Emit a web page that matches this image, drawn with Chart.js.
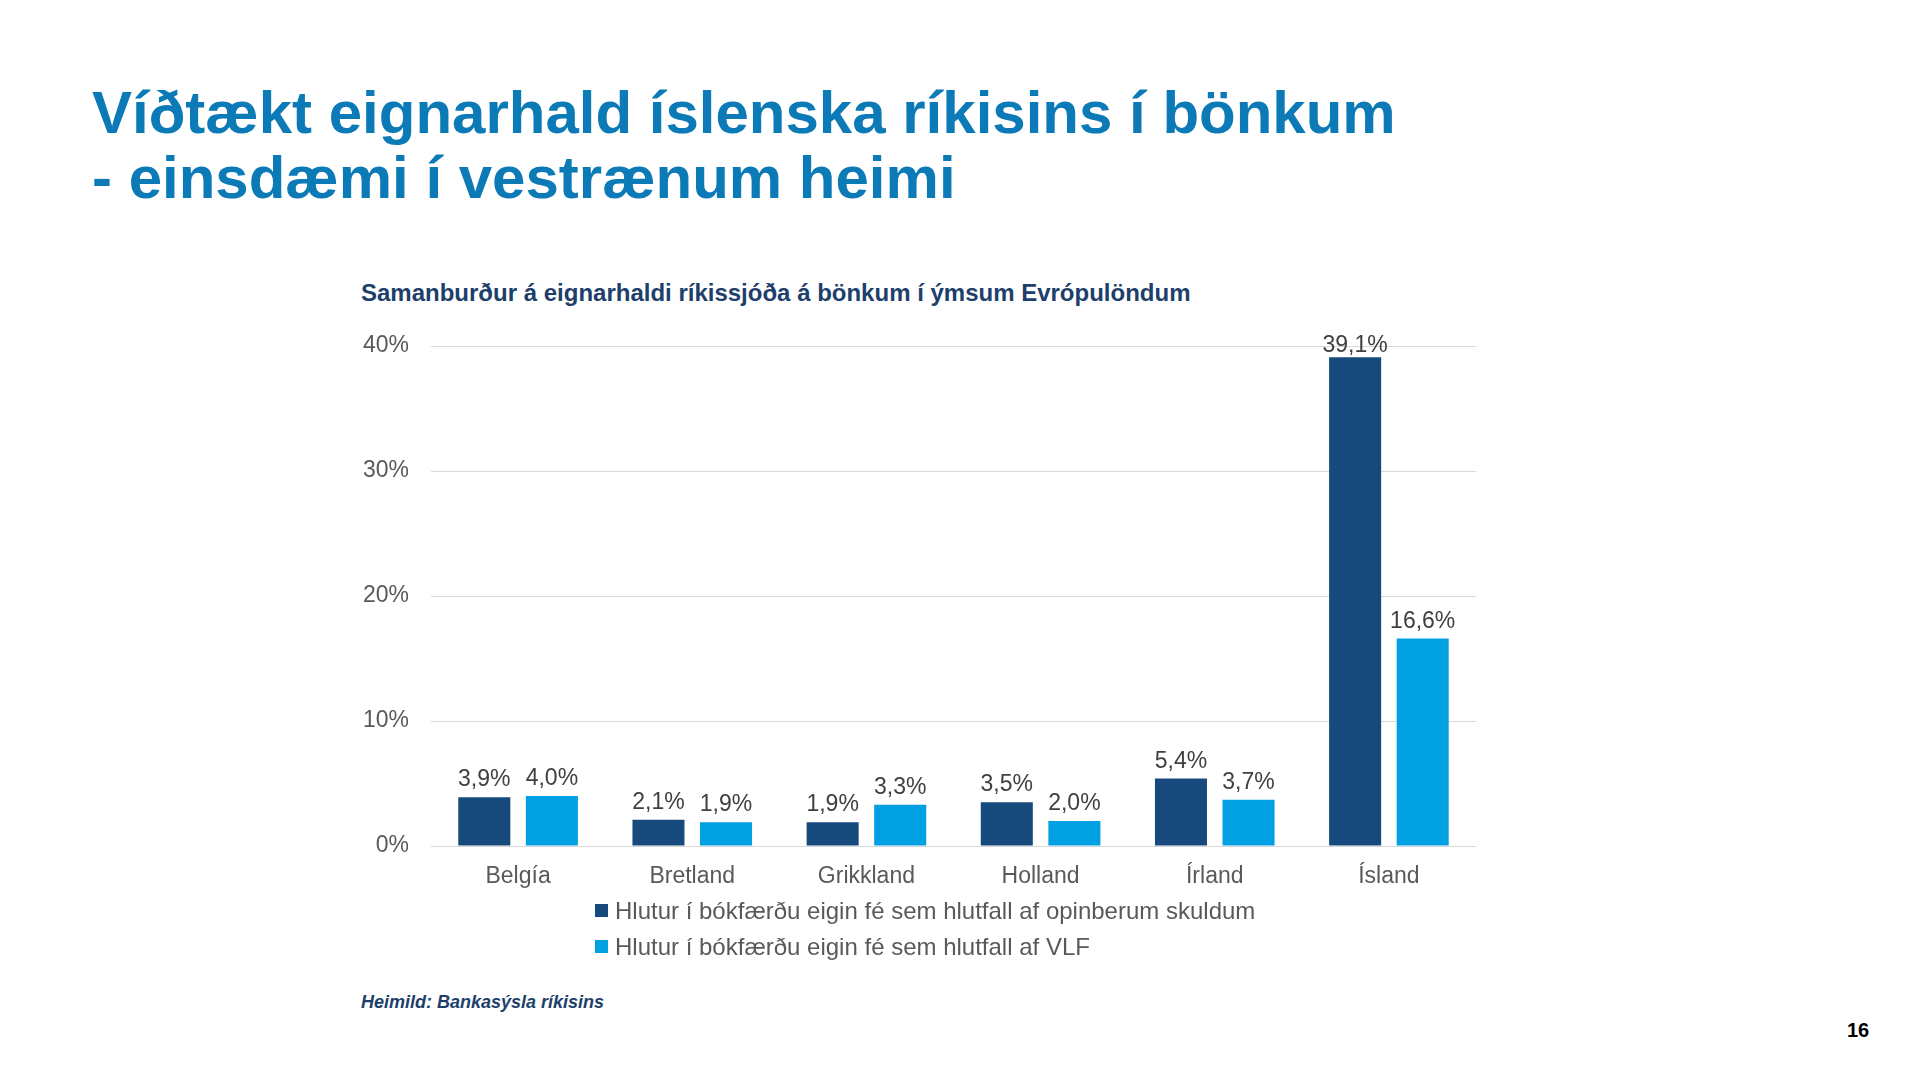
<!DOCTYPE html>
<html>
<head>
<meta charset="utf-8">
<script src="https://cdn.jsdelivr.net/npm/chart.js@4.4.0/dist/chart.umd.min.js"></script>
<style>
body { margin:0; width:1920px; height:1080px; background:#fff; position:relative; overflow:hidden; font-family:"Liberation Sans", Arial, sans-serif; }
#title { position:absolute; left:92px; top:80px; font-size:60px; line-height:65px; font-weight:bold; color:#0b7ab6; white-space:nowrap; }
#subtitle { position:absolute; left:361px; top:281px; font-size:24px; line-height:24px; font-weight:bold; color:#1e3f6b; white-space:nowrap; }
#chartBox { position:absolute; left:300px; top:300px; width:1250px; height:680px; }
#source { position:absolute; left:361px; top:993px; font-size:18px; line-height:18px; font-weight:bold; font-style:italic; color:#1e3f6b; }
#page { position:absolute; left:1847px; top:1020px; font-size:20px; line-height:20px; font-weight:bold; color:#000; }
</style>
</head>
<body>
<div id="title">Víðtækt eignarhald íslenska ríkisins í bönkum<br>- einsdæmi í vestrænum heimi</div>
<div id="subtitle">Samanburður á eignarhaldi ríkissjóða á bönkum í ýmsum Evrópulöndum</div>
<div id="chartBox"><canvas id="chart"></canvas></div>
<div id="source">Heimild: Bankasýsla ríkisins</div>
<div id="page">16</div>
<script>
const categories = ['Belgía', 'Bretland', 'Grikkland', 'Holland', 'Írland', 'Ísland'];
const debtShare = [3.9, 2.1, 1.9, 3.5, 5.4, 39.1];
const gdpShare = [4.0, 1.9, 3.3, 2.0, 3.7, 16.6];
const seriesNames = [
    'Hlutur í bókfærðu eigin fé sem hlutfall af opinberum skuldum',
    'Hlutur í bókfærðu eigin fé sem hlutfall af VLF'
];
const yTicks = [0, 10, 20, 30, 40];
const colors = ['#164a7c', '#00a0e3'];

const FONT = '"Liberation Sans", Arial, sans-serif';

function pct(v) {
    return v.toFixed(1).replace('.', ',') + '%';
}

// value labels above each bar (kept inside the plot area like Excel does)
const barLabels = {
    id: 'barLabels',
    afterDatasetsDraw(chart) {
        const ctx = chart.ctx;
        const top = chart.chartArea.top;
        ctx.save();
        ctx.font = '23px ' + FONT;
        ctx.fillStyle = '#404040';
        ctx.textAlign = 'center';
        ctx.textBaseline = 'alphabetic';
        chart.data.datasets.forEach(function (ds, i) {
            chart.getDatasetMeta(i).data.forEach(function (bar, j) {
                const y = Math.max(bar.y - 11, top + 6);
                ctx.fillText(pct(ds.data[j]), bar.x, y);
            });
        });
        ctx.restore();
    }
};

// legend with one item per line, below the axis
const stackedLegend = {
    id: 'stackedLegend',
    afterDraw(chart) {
        const ctx = chart.ctx;
        const left = chart.chartArea.left + 164;
        let y = chart.chartArea.bottom + 65;
        ctx.save();
        ctx.font = '24px ' + FONT;
        ctx.textBaseline = 'middle';
        ctx.textAlign = 'left';
        chart.data.datasets.forEach(function (ds) {
            ctx.fillStyle = ds.backgroundColor;
            ctx.fillRect(left, y - 7, 13, 13);
            ctx.fillStyle = '#595959';
            ctx.fillText(ds.label, left + 20, y + 1);
            y += 36;
        });
        ctx.restore();
    }
};

new Chart(document.getElementById('chart'), {
    type: 'bar',
    data: {
        labels: categories,
        datasets: [
            { label: seriesNames[0], data: debtShare, backgroundColor: colors[0] },
            { label: seriesNames[1], data: gdpShare, backgroundColor: colors[1] }
        ]
    },
    options: {
        responsive: true,
        maintainAspectRatio: false,
        animation: false,
        categoryPercentage: 0.776,
        barPercentage: 0.77,
        layout: { padding: { top: 46, right: 74, left: 0, bottom: 64 } },
        plugins: {
            legend: { display: false },
            tooltip: { enabled: false }
        },
        scales: {
            x: {
                grid: { display: false },
                border: { display: false },
                ticks: { color: '#595959', font: { family: FONT, size: 23 }, padding: 9 },
                afterFit: function (s) { s.height = 70; }
            },
            y: {
                min: yTicks[0],
                max: yTicks[yTicks.length - 1],
                afterBuildTicks: function (s) { s.ticks = yTicks.map(function (v) { return { value: v }; }); },
                grid: { color: '#d9d9d9', lineWidth: 1, drawTicks: false },
                border: { display: false },
                ticks: {
                    color: '#595959',
                    font: { family: FONT, size: 23 },
                    padding: 22,
                    callback: function (v) { return v + '%'; }
                },
                afterFit: function (s) { s.width = 131; }
            }
        }
    },
    plugins: [barLabels, stackedLegend]
});
</script>
</body>
</html>
